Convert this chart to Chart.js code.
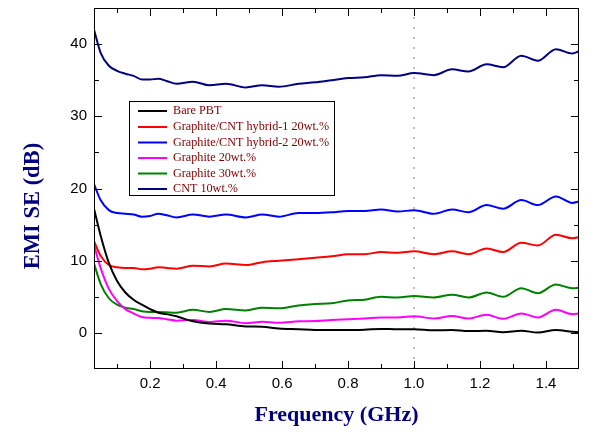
<!DOCTYPE html>
<html><head><meta charset="utf-8">
<script src="https://cdn.jsdelivr.net/npm/chart.js@4.4.1/dist/chart.umd.min.js"></script>
<style>html,body{margin:0;padding:0;background:#fff;}#wrap{width:602px;height:436px;}</style>
</head><body><div id="wrap"><canvas id="c" width="602" height="436"></canvas></div>
<script>
// Frequency (GHz)
const freq = [0.03,0.05,0.075,0.1,0.125,0.15,0.175,0.2,0.225,0.25,0.28,0.33,0.38,0.43,0.49,0.54,0.59,0.65,0.7,0.75,0.8,0.85,0.9,0.95,1.0,1.06,1.115,1.165,1.22,1.27,1.325,1.375,1.43,1.48,1.5];
// EMI SE (dB)
const barePBT = [17.2,13.5,9.7,7.2,5.6,4.6,3.9,3.3,2.8,2.6,2.3,1.6,1.3,1.2,0.9,0.85,0.6,0.5,0.4,0.4,0.4,0.45,0.55,0.5,0.5,0.35,0.4,0.25,0.3,0.1,0.3,0.05,0.4,0.15,0.1];
const hybrid1 = [12.7,10.7,9.4,9.1,9.0,9.0,8.8,8.9,9.1,9.0,8.9,9.3,9.2,9.6,9.4,9.8,10.0,10.2,10.4,10.6,10.9,10.9,11.2,11.1,11.3,10.9,11.3,10.9,11.7,11.2,12.5,12.1,13.6,13.1,13.3];
const hybrid2 = [20.6,18.4,17.0,16.6,16.5,16.4,16.1,16.2,16.5,16.3,16.0,16.4,16.1,16.4,16.0,16.4,16.1,16.6,16.6,16.7,16.9,16.9,17.1,16.8,17.0,16.5,17.1,16.7,17.7,17.2,18.4,17.7,18.9,18.0,18.2];
const graphite20 = [12.2,9.0,6.1,4.4,3.3,2.7,2.2,2.1,2.05,1.9,1.7,1.8,1.5,1.7,1.35,1.55,1.4,1.6,1.65,1.8,1.9,2.0,2.15,2.15,2.3,2.0,2.35,2.0,2.5,1.95,2.7,2.15,3.2,2.6,2.7];
const graphite30 = [9.6,6.8,4.8,3.9,3.5,3.3,3.0,2.9,2.9,2.85,2.8,3.2,2.9,3.3,3.1,3.5,3.4,3.8,4.0,4.1,4.5,4.6,5.0,4.9,5.1,4.9,5.3,4.9,5.6,5.0,6.2,5.5,6.7,6.2,6.25];
const cnt10 = [42.0,38.8,37.0,36.3,35.9,35.6,35.1,35.1,35.2,34.9,34.5,34.8,34.3,34.5,34.0,34.3,34.1,34.5,34.7,35.0,35.3,35.4,35.7,35.6,36.0,35.7,36.5,36.2,37.2,36.8,38.4,37.7,39.3,38.7,39.0];

const seriesNames = ['Bare PBT','Graphite/CNT hybrid-1 20wt.%','Graphite/CNT hybrid-2 20wt.%','Graphite 20wt.%','Graphite 30wt.%','CNT 10wt.%'];
const seriesColors = ['#000000','#ff0000','#0000ff','#ff00ff','#008000','#000080'];
const seriesValues = [barePBT,hybrid1,hybrid2,graphite20,graphite30,cnt10];

const xMajorTicks = [0.2,0.4,0.6,0.8,1.0,1.2,1.4];
const xTickLabels = ['0.2','0.4','0.6','0.8','1.0','1.2','1.4'];
const xMinorTicks = [0.1,0.3,0.5,0.7,0.9,1.1,1.3];
const yMajorTicks = [0,10,20,30,40];
const yTickLabels = ['0','10','20','30','40'];
const yMinorTicks = [5,15,25,35];
const refLineX = 1.0;

const datasets = seriesValues.map((vals,i)=>({
  label: seriesNames[i],
  data: freq.map((f,j)=>({x:f,y:vals[j]})),
  borderColor: seriesColors[i],
  borderWidth: 2,
  pointRadius: 0,
  fill: false,
  cubicInterpolationMode: 'monotone'
}));
datasets.push({
  label: 'ref',
  data: [{x:refLineX,y:-5},{x:refLineX,y:45}],
  borderColor: '#808080',
  borderWidth: 1,
  borderDash: [2,8],
  pointRadius: 0,
  fill: false
});

const framePlugin = {
  id: 'frame',
  afterDatasetsDraw(chart){
    const {ctx, chartArea:a, scales:{x,y}} = chart;
    ctx.save();
    ctx.strokeStyle = '#000';
    ctx.lineWidth = 1;
    ctx.strokeRect(a.left+0.5, a.top+0.5, a.right-a.left-1, a.bottom-a.top-1);
    ctx.beginPath();
    const xt = (v,len)=>{const p=Math.round(x.getPixelForValue(v))+0.5;ctx.moveTo(p,a.bottom);ctx.lineTo(p,a.bottom-len);ctx.moveTo(p,a.top);ctx.lineTo(p,a.top+len);};
    const yt = (v,len)=>{const p=Math.round(y.getPixelForValue(v))+0.5;ctx.moveTo(a.left,p);ctx.lineTo(a.left+len,p);ctx.moveTo(a.right,p);ctx.lineTo(a.right-len,p);};
    xMajorTicks.forEach(v=>xt(v,8)); xMinorTicks.forEach(v=>xt(v,5));
    yMajorTicks.forEach(v=>yt(v,8)); yMinorTicks.forEach(v=>yt(v,5));
    ctx.stroke();
    ctx.restore();
  },
  afterDraw(chart){
    const {ctx} = chart;
    ctx.save();
    // y-axis title
    ctx.translate(33, 206);
    ctx.rotate(-Math.PI/2);
    ctx.font = 'bold 22.5px "Liberation Serif"';
    ctx.fillStyle = '#000080';
    ctx.textAlign = 'center';
    ctx.textBaseline = 'middle';
    ctx.fillText('EMI SE (dB)', 0, 0);
    ctx.restore();
    // legend
    ctx.save();
    const bx=129.5, by=101.5, bw=205, bh=94;
    ctx.fillStyle='#fff'; ctx.fillRect(bx,by,bw,bh);
    ctx.strokeStyle='#000'; ctx.lineWidth=1; ctx.strokeRect(bx,by,bw,bh);
    const rows=[111,127,142.5,158,173.5,189];
    ctx.font='12.2px "Liberation Serif"';
    ctx.textBaseline='middle';
    seriesNames.forEach((n,i)=>{
      ctx.strokeStyle=seriesColors[i]; ctx.lineWidth=2;
      ctx.beginPath(); ctx.moveTo(138,rows[i]); ctx.lineTo(167,rows[i]); ctx.stroke();
      ctx.fillStyle='#800000'; ctx.fillText(n,173,rows[i]);
    });
    ctx.restore();
  }
};

new Chart(document.getElementById('c'), {
  type: 'line',
  data: {datasets},
  options: {
    responsive: false,
    devicePixelRatio: 1,
    animation: false,
    layout: {padding: {top: 8, right: 23, left: 0, bottom: 0}},
    plugins: {legend: {display: false}, tooltip: {enabled: false}},
    scales: {
      x: {
        type: 'linear', min: 0.03, max: 1.5,
        afterBuildTicks: s => { s.ticks = xMajorTicks.map(v=>({value:v})); },
        afterFit: s => { s.height = 67; s.paddingLeft = 0; s.paddingRight = 0; },
        grid: {display: false, drawTicks: false},
        border: {display: false},
        ticks: {
          padding: 6, color: '#000',
          font: {family: '"Liberation Sans"', size: 15},
          callback: (v,i) => xTickLabels[i]
        },
        title: {display: true, text: 'Frequency (GHz)', color: '#000080',
          font: {family: '"Liberation Serif"', size: 22, weight: 'bold'}, padding: {top: 0, bottom: 7}}
      },
      y: {
        type: 'linear', min: -5, max: 45,
        afterBuildTicks: s => { s.ticks = yMajorTicks.map(v=>({value:v})); },
        afterFit: s => { s.width = 94; s.paddingTop = 0; s.paddingBottom = 0; },
        grid: {display: false, drawTicks: false},
        border: {display: false},
        ticks: {
          padding: 7, color: '#000',
          font: {family: '"Liberation Sans"', size: 15},
          callback: (v,i) => yTickLabels[i]
        }
      }
    }
  },
  plugins: [framePlugin]
});
</script>
</body></html>
